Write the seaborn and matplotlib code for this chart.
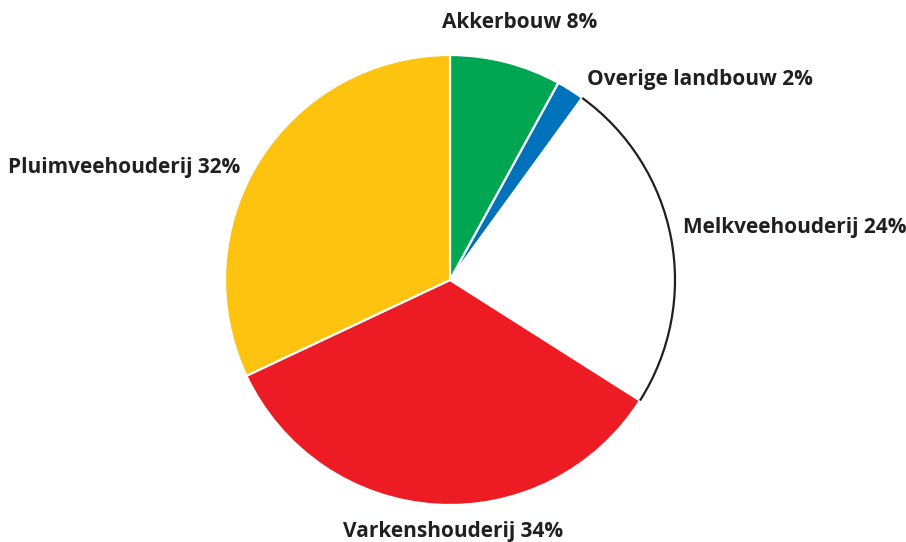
import matplotlib.pyplot as plt
import seaborn as sns
from matplotlib.patches import Arc

# sectors, clockwise from 12 o'clock
sectors = ["Akkerbouw", "Overige landbouw", "Melkveehouderij", "Varkenshouderij", "Pluimveehouderij"]
shares = [8, 2, 24, 34, 32]
colors = ["#00a651", "#0072bc", "#ffffff", "#ed1c24", "#fdc30f"]

# label anchor points in pixels (x, y from top) and alignment
label_px = [(520, 23, "center"), (587, 79, "left"), (683, 227, "left"),
            (453, 531, "center"), (240, 167, "right")]

sns.set_theme(style="white")
plt.rcParams["font.family"] = ["Open Sans", "DejaVu Sans"]

W, H = 906, 542
CX, CY, R = 450, 280, 225

fig = plt.figure(figsize=(W / 100, H / 100), dpi=100)
ax = fig.add_axes([0, 0, 1, 1])

wedges, _ = ax.pie(shares, colors=colors, startangle=90, counterclock=False,
                   radius=1, wedgeprops=dict(edgecolor="white", linewidth=1.6))

# outline on the outer rim of the white slice
start = 90 - 360 * sum(shares[:2]) / 100
end = 90 - 360 * sum(shares[:3]) / 100
ax.add_patch(Arc((0, 0), 2, 2, theta1=end, theta2=start, color="#231f20", lw=1.6))

for name, pct, (px, py, ha) in zip(sectors, shares, label_px):
    ax.text((px - CX) / R, (CY - py) / R, f"{name} {pct}%", ha=ha, va="center",
            fontsize=15, fontweight="bold", color="#231f20")

ax.set_aspect("auto")
ax.set_xlim(-CX / R, (W - CX) / R)
ax.set_ylim(-(H - CY) / R, CY / R)
ax.axis("off")
fig.savefig("out.png", dpi=100)
